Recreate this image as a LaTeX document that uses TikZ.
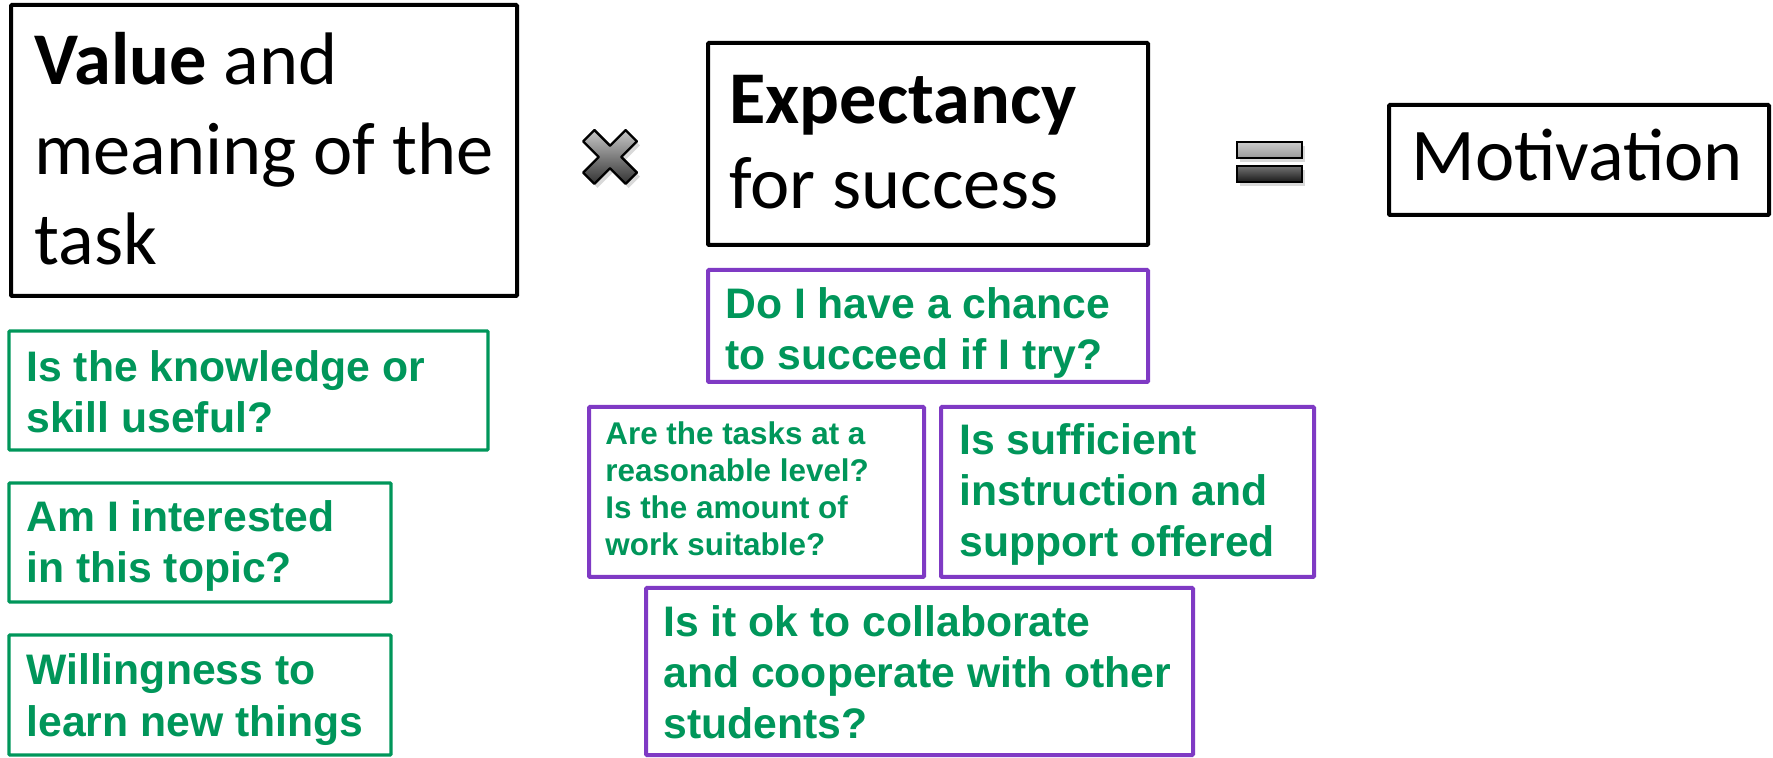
\documentclass[tikz,border=0pt]{standalone}
\usepackage{fontspec}
\setmainfont{Carlito}
\newfontfamily\qfont{Liberation Sans}
\usetikzlibrary{fit}
\definecolor{qgreen}{RGB}{0,150,90}
\definecolor{qpurple}{RGB}{127,58,196}
\newcommand{\crosspath}{(0,-11.3) -- (15.6,-26.9) -- (26.9,-15.6) -- (11.3,0) -- (26.9,15.6)
    -- (15.6,26.9) -- (0,11.3) -- (-15.6,26.9) -- (-26.9,15.6) -- (-11.3,0) -- (-26.9,-15.6)
    -- (-15.6,-26.9) -- cycle}
\begin{document}
\begin{tikzpicture}[x=0.5pt, y=-0.5pt,
    box/.style={draw, line width=2pt, inner sep=0pt, rounded corners=0.5pt},
    bigbox/.style={box, black},
    greenbox/.style={box, qgreen, line width=1.7pt},
    purplebox/.style={box, qpurple},
    bigtext/.style={anchor=base west, inner sep=0pt, text width=280pt, align=flush left,
        font=\fontsize{37.2}{42.5}\selectfont},
    qtext/.style={anchor=base west, inner sep=0pt, text width=300pt, align=flush left,
        text=qgreen, font=\qfont\bfseries\fontsize{21.35}{25.5}\selectfont},
    smallqtext/.style={qtext, font=\qfont\bfseries\fontsize{15.7}{18.5}\selectfont},
    signshadow/.style={fill=black, opacity=0.15}]
    \useasboundingbox (0,0) rectangle (1773,758);

    % Value x Expectancy = Motivation
    \node[bigbox, fit={(11,5) (517,296)}] (valuebox) {};
    \node[bigtext, font=\fontsize{37.2}{45}\selectfont] (valuetext) at (34,85)
        {\textbf{Value} and\\meaning of the\\task};
    \node[bigbox, fit={(708,43) (1148,245)}] (expbox) {};
    \node[bigtext] (exptext) at (729,124) {\textbf{Expectancy}\\for success};
    \node[bigbox, fit={(1389,105) (1769,215)}] (motbox) {};
    \node[bigtext] (mottext) at (1411,181) {Motivation};

    % Mal-Zeichen
    \begin{scope}[shift={(613,161)}]
        \fill[signshadow] \crosspath;
    \end{scope}
    \begin{scope}[shift={(610,157)}]
        \draw[line width=1.2pt, line join=round, top color=black!22, bottom color=black!80]
            \crosspath;
    \end{scope}

    % Gleich-Zeichen
    \fill[signshadow] (1240,146) rectangle (1305,162);
    \fill[signshadow] (1240,170) rectangle (1305,186);
    \draw[line width=1.2pt, top color=black!20, bottom color=black!40] (1237,142) rectangle (1302,158);
    \draw[line width=1.2pt, top color=black!55, bottom color=black!90] (1237,166) rectangle (1302,182);

    % Fragen zum Wert
    \node[greenbox, fit={(9,331) (488,450)}] (usebox) {};
    \node[qtext] (usetext) at (26,382) {Is the knowledge or\\skill useful?};
    \node[greenbox, fit={(9,483) (391,602)}] (interestbox) {};
    \node[qtext] (interesttext) at (26,532) {Am I interested\\in this topic?};
    \node[greenbox, fit={(9,635) (391,755)}] (willbox) {};
    \node[qtext] (willtext) at (26,685) {Willingness to\\learn new things};

    % Fragen zur Erwartung
    \node[purplebox, fit={(708,270) (1148,382)}] (chancebox) {};
    \node[qtext] (chancetext) at (725,319) {Do I have a chance\\to succeed if I try?};
    \node[purplebox, fit={(589,407) (924,577)}] (levelbox) {};
    \node[smallqtext] (leveltext) at (605,445)
        {Are the tasks at a\\reasonable level?\\Is the amount of\\work suitable?};
    \node[purplebox, fit={(941,407) (1314,577)}] (supportbox) {};
    \node[qtext] (supporttext) at (959,455) {Is sufficient\\instruction and\\support offered};
    \node[purplebox, fit={(646,588) (1193,755)}] (collabbox) {};
    \node[qtext] (collabtext) at (663,637)
        {Is it ok to collaborate\\and cooperate with other\\students?};
\end{tikzpicture}
\end{document}
